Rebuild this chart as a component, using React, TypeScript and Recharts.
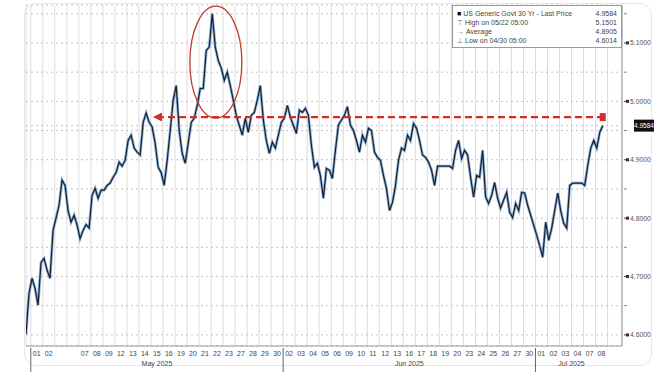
import React from "react";
import { LineChart, Line, XAxis, YAxis, CartesianGrid, ReferenceLine, ReferenceDot } from "recharts";

document.body.style.margin = "0";

// 30Y yield, 4 samples per trading day
const yieldsMay = [
  4.601, 4.671, 4.697, 4.68, 4.651, 4.724, 4.731, 4.711,
  4.697, 4.779, 4.8, 4.822, 4.865, 4.856, 4.813, 4.793,
  4.805, 4.788, 4.765, 4.779, 4.789, 4.783, 4.839, 4.851,
  4.834, 4.848, 4.848, 4.856, 4.86, 4.87, 4.878, 4.896,
  4.889, 4.899, 4.933, 4.942, 4.92, 4.913, 4.908, 4.964,
  4.98, 4.964, 4.956, 4.928, 4.887, 4.878, 4.856, 4.899,
  4.95, 5.002, 5.027, 4.95, 4.911, 4.894, 4.928, 4.964,
  4.971, 4.993, 5.022, 5.022, 5.087, 5.093, 5.1501, 5.093,
  5.07, 5.057, 5.036, 5.05, 5.027, 5.002, 4.976, 4.959,
  4.942, 4.971, 4.947, 4.976, 4.981, 5.002, 5.027, 4.968,
  4.933, 4.911, 4.93, 4.92,
];
const yieldsJun = [
  4.942, 4.964, 4.971, 4.993, 4.973, 4.959, 4.945, 4.985,
  4.981, 4.988, 4.976, 4.925, 4.887, 4.894, 4.873, 4.834,
  4.885, 4.882, 4.868, 4.916, 4.959, 4.968, 4.976, 4.991,
  4.959, 4.95, 4.933, 4.913, 4.942, 4.93, 4.954, 4.95,
  4.913, 4.904, 4.899, 4.873, 4.851, 4.813, 4.827, 4.856,
  4.899, 4.92, 4.916, 4.942, 4.933, 4.962, 4.954, 4.933,
  4.908, 4.904, 4.896, 4.882, 4.856, 4.889, 4.889, 4.889,
  4.889, 4.889, 4.885, 4.916, 4.933, 4.902, 4.916, 4.908,
  4.87, 4.836, 4.873, 4.87, 4.916, 4.836, 4.825, 4.839,
  4.861, 4.834, 4.817, 4.831, 4.844, 4.81, 4.801, 4.825,
  4.813, 4.844, 4.843, 4.822,
];
const yieldsJul = [
  4.805, 4.788, 4.771, 4.753, 4.733, 4.793, 4.762, 4.783,
  4.813, 4.843, 4.813, 4.791, 4.783, 4.856, 4.86, 4.86,
  4.86, 4.86, 4.856, 4.89, 4.92, 4.933, 4.92, 4.947, 4.9584,
];
const firstSampleDay = -0.4; // series opens late on 30 Apr
const samplesPerDay = 4;

const mayDays = ["01", "02", "", "", "07", "08", "09", "12", "13", "14", "15", "16", "19", "20", "21", "22", "23", "27", "28", "29", "30"];
const junDays = ["02", "03", "04", "05", "06", "09", "10", "11", "12", "13", "16", "17", "18", "19", "20", "23", "24", "25", "26", "27", "30"];
const julDays = ["01", "02", "03", "04", "07", "08"];
const monthNames = ["May 2025", "Jun 2025", "Jul 2025"];

const yMajor = [4.6, 4.7, 4.8, 4.9, 5.0, 5.1];
const yMinor = [4.65, 4.75, 4.85, 4.95, 5.05, 5.15];
const lastPrice = 4.9584;

const legendLabels = ["US Generic Govt 30 Yr - Last Price", "High on 05/22 05:00", "Average", "Low on 04/30 05:00"];
const legendValues = ["4.9584", "5.1501", "4.8905", "4.6014"];
const legendIcons = ["\u25A0", "\u22A4", "\u2192", "\u22A5"];

const resistanceLevel = 4.973;
const arrowStartDay = 47.6;
const arrowEndDay = 10.5;
const peakCircle = { day: 15.4, value: 5.067 };

const yields = [...yieldsMay, ...yieldsJun, ...yieldsJul];
const data = yields.map((v, i) => ({ t: firstSampleDay + i / samplesPerDay, v }));

const dayLabels = [...mayDays, ...junDays, ...julDays];
const dayTicks = [...dayLabels.map((_, i) => i), dayLabels.length];
const monthLens = [mayDays.length, junDays.length, julDays.length];
const monthStarts = monthLens.map((_, i) => monthLens.slice(0, i).reduce((a, b) => a + b, 0));
const monthCenters = monthStarts.map((s, i) => s + monthLens[i] / 2);

const FONT = "'Liberation Sans', Arial, sans-serif";
const RED = "#cf2e2a";

function DayTick({ x, y, payload }: any) {
  const i = payload.value;
  const isMonthStart = monthStarts.includes(i);
  return (
    <g>
      {isMonthStart && <line x1={x} y1={y} x2={x} y2={y + 24} stroke="#666" strokeWidth={1} />}
      <text x={x + 2} y={y + 8} fontSize={7} fill="#444" fontFamily={FONT}>
        {dayLabels[i] ?? ""}
      </text>
    </g>
  );
}

function MonthTick({ x, y, payload }: any) {
  const idx = monthCenters.indexOf(payload.value);
  return (
    <text x={x} y={y + 4} fontSize={7} fill="#444" textAnchor="middle" fontFamily={FONT}>
      {monthNames[idx]}
    </text>
  );
}

function YTick({ x, y, payload }: any) {
  const v = payload.value;
  if (v === lastPrice) {
    return (
      <g>
        <rect x={x + 10} y={y - 6} width={20} height={12} fill="#111" />
        <text x={x + 20} y={y + 2.5} fontSize={6.5} fill="#fff" textAnchor="middle" fontFamily={FONT}>
          {v.toFixed(4)}
        </text>
      </g>
    );
  }
  if (yMinor.includes(v)) {
    return <line x1={x} y1={y} x2={x + 3} y2={y} stroke="#888" />;
  }
  return (
    <g>
      <rect x={x + 2} y={y - 1.5} width={3} height={3} fill="#222" />
      <line x1={x} y1={y} x2={x + 5} y2={y} stroke="#444" />
      <text x={x + 6} y={y + 2.5} fontSize={6.8} fill="#555" fontFamily={FONT}>
        {v.toFixed(4)}
      </text>
    </g>
  );
}

export default function App() {
  return (
    <div style={{ position: "relative", width: 670, height: 376, background: "#fff" }}>
      <div
        style={{
          position: "absolute",
          left: 24,
          top: 3,
          width: 628,
          height: 363,
          border: "1px solid #e8e8e8",
          borderRadius: 12,
          boxSizing: "border-box",
        }}
      />
      <LineChart
        width={670}
        height={376}
        data={data}
        margin={{ top: 5, right: 0, left: 26, bottom: 0 }}
        style={{ position: "absolute", left: 0, top: 0 }}
      >
        <CartesianGrid horizontal={false} stroke="#dcdcdc" />
        <CartesianGrid vertical={false} stroke="#c4c4c4" strokeDasharray="2 3" />
        <XAxis
          dataKey="t"
          type="number"
          domain={[firstSampleDay, 49.2]}
          ticks={dayTicks}
          interval={0}
          tick={<DayTick />}
          tickLine={false}
          tickSize={0}
          axisLine={{ stroke: "#999" }}
          height={14}
          allowDataOverflow
        />
        <XAxis
          xAxisId="m"
          dataKey="t"
          type="number"
          domain={[firstSampleDay, 49.2]}
          ticks={monthCenters}
          interval={0}
          tick={<MonthTick />}
          tickLine={false}
          tickSize={0}
          axisLine={false}
          height={16}
          allowDataOverflow
        />
        <YAxis
          orientation="right"
          type="number"
          domain={[4.581, 5.165]}
          ticks={[...yMajor, ...yMinor, lastPrice]}
          interval={0}
          tick={<YTick />}
          tickLine={false}
          tickSize={0}
          axisLine={{ stroke: "#999" }}
          width={48}
          allowDataOverflow
        />
        <Line
          type="linear"
          dataKey="v"
          stroke="#5b8fc6"
          strokeWidth={2.8}
          strokeOpacity={0.7}
          dot={false}
          isAnimationActive={false}
        />
        <Line
          type="linear"
          dataKey="v"
          stroke="#18202c"
          strokeWidth={1.2}
          dot={false}
          isAnimationActive={false}
        />
        <ReferenceLine
          segment={[
            { x: arrowEndDay, y: resistanceLevel },
            { x: arrowStartDay, y: resistanceLevel },
          ]}
          stroke={RED}
          strokeWidth={2.2}
          strokeDasharray="7 4"
        />
        <ReferenceDot
          x={arrowEndDay}
          y={resistanceLevel}
          shape={(p: any) => (
            <polygon
              points={`${p.cx - 4},${p.cy} ${p.cx + 5},${p.cy - 4.5} ${p.cx + 5},${p.cy + 4.5}`}
              fill={RED}
            />
          )}
        />
        <ReferenceDot
          x={arrowStartDay}
          y={resistanceLevel}
          shape={(p: any) => <rect x={p.cx - 3} y={p.cy - 4} width={6} height={8} fill={RED} />}
        />
        <ReferenceDot
          x={peakCircle.day}
          y={peakCircle.value}
          shape={(p: any) => (
            <ellipse cx={p.cx} cy={p.cy} rx={26} ry={56} fill="none" stroke="#c0392b" strokeWidth={1.3} />
          )}
        />
      </LineChart>
      <div
        style={{
          position: "absolute",
          left: 452,
          top: 5,
          width: 170,
          height: 43,
          boxSizing: "border-box",
          border: "1px solid #9a9a9a",
          background: "#fff",
          padding: "3px 4px 0 4px",
          fontFamily: FONT,
          fontSize: 7,
          color: "#444",
          lineHeight: "9px",
        }}
      >
        {legendLabels.map((label, i) => (
          <div key={label} style={{ display: "flex", justifyContent: "space-between" }}>
            <span>
              <span style={{ color: i === 0 ? "#111" : "#777", marginRight: 2 }}>{legendIcons[i]}</span>
              {label}
            </span>
            <span>{legendValues[i]}</span>
          </div>
        ))}
      </div>
    </div>
  );
}
